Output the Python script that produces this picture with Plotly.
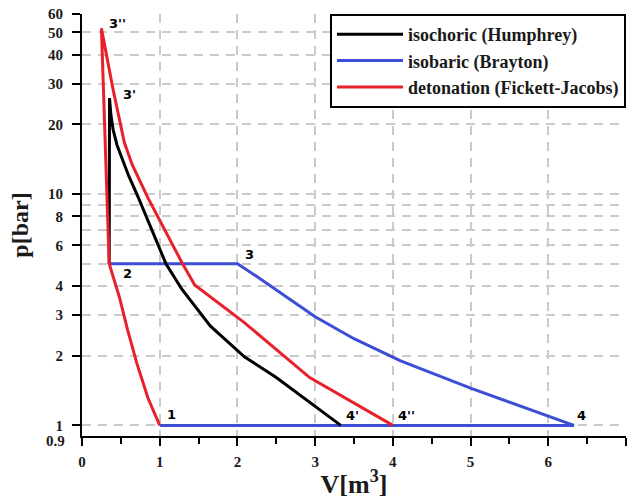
import plotly.graph_objects as go
import math

# ---- data ----
# isochoric (Humphrey): 2 -> 3' -> 4'
humphrey_v = [0.35, 0.354, 0.372, 0.40, 0.45, 0.52, 0.60, 0.728, 0.91, 1.08, 1.28, 1.65, 2.09, 2.5, 3.33]
humphrey_p = [5.0, 26.0, 22.0, 19.0, 16.3, 14.0, 12.0, 9.6, 6.8, 5.0, 3.9, 2.69, 1.98, 1.61, 1.0]

# isobaric (Brayton): 2 -> 3 -> 4 -> 1
brayton_v = [0.35, 2.0, 2.25, 2.5, 3.0, 3.5, 4.1, 5.0, 6.0, 6.33, 1.0]
brayton_p = [5.0, 5.0, 4.4, 3.85, 2.95, 2.37, 1.9, 1.45, 1.10, 1.0, 1.0]

# detonation (Fickett-Jacobs): 1 -> 2 -> 3'' -> 4''
fj_v = [1.0, 0.85, 0.707, 0.585, 0.484, 0.40, 0.35, 0.25, 0.40, 0.545, 0.646, 0.85,
        1.057, 1.28, 1.45, 2.085, 2.93, 4.0]
fj_p = [1.0, 1.31, 1.85, 2.6, 3.56, 4.45, 5.0, 52.0, 28.3, 16.7, 13.4, 9.6,
        7.05, 5.1, 4.05, 2.79, 1.61, 1.0]

y_min, y_max = 0.9, 60
y_tickvals = [1, 2, 3, 4, 6, 8, 10, 20, 30, 40, 50, 60]
y_ticktext = ["1", "2", "3", "4", "6", "8", "10", "20", "30", "40", "50", "60"]
y_bottom_label = "0.9"
x_tickvals = [0, 1, 2, 3, 4, 5, 6, 7]

# point labels: (text, series v, series p, index, xshift, yshift)
point_labels = [
    ("3''", fj_v, fj_p, 7, 6, 5),
    ("3'", humphrey_v, humphrey_p, 1, 11, 4),
    ("2", humphrey_v, humphrey_p, 0, 12, -10),
    ("3", brayton_v, brayton_p, 1, 6, 9),
    ("1", fj_v, fj_p, 0, 5, 11),
    ("4'", humphrey_v, humphrey_p, 14, 3, 10),
    ("4''", fj_v, fj_p, 17, 3, 10),
    ("4", brayton_v, brayton_p, 9, 1, 10),
]

BLUE = "#3c4ed6"
RED = "#e8202a"
SERIF = "Liberation Serif"
TXT = "#1a1a1a"

fig = go.Figure()
fig.add_trace(go.Scatter(x=brayton_v, y=brayton_p, mode="lines", name="<b>isobaric (Brayton)</b>",
                         line=dict(color=BLUE, width=3), legendrank=2))
fig.add_trace(go.Scatter(x=humphrey_v, y=humphrey_p, mode="lines", name="<b>isochoric (Humphrey)</b>",
                         line=dict(color="black", width=3), legendrank=1))
fig.add_trace(go.Scatter(x=fj_v, y=fj_p, mode="lines", name="<b>detonation (Fickett-Jacobs)</b>",
                         line=dict(color=RED, width=3), legendrank=3))

for text, vs, ps, i, xs, ys in point_labels:
    fig.add_annotation(x=vs[i], y=math.log10(ps[i]), text=text, showarrow=False,
                       xanchor="left", yanchor="middle", xshift=xs, yshift=ys,
                       font=dict(family="DejaVu Sans", size=13, color="black", weight="bold"))

# bottom y tick label (0.9) and its tick mark
fig.add_annotation(x=0, xref="paper", y=math.log10(y_min), yref="y",
                   text=f"<b>{y_bottom_label}</b>", showarrow=False,
                   xanchor="right", yanchor="middle", xshift=-15, yshift=-5,
                   font=dict(family=SERIF, size=15, color=TXT))
fig.add_shape(type="line", xref="paper", xsizemode="pixel", xanchor=0, x0=-8, x1=0,
              yref="y", y0=math.log10(y_min), y1=math.log10(y_min),
              line=dict(color="black", width=2))

grid_color = "#cbcbcb"
fig.update_xaxes(
    range=[0, 7], tickvals=x_tickvals, showline=True, linecolor="black", linewidth=2,
    ticks="outside", ticklen=8, tickwidth=2, tickcolor="black", ticklabelstandoff=3,
    tickfont=dict(family=SERIF, size=15, color=TXT, weight="bold"),
    showgrid=True, gridcolor=grid_color, gridwidth=1.5, griddash="9px,7px",
    zeroline=False, automargin=False,
    minor=dict(dtick=0.5, tick0=0, ticks="outside", ticklen=6, tickwidth=2, tickcolor="black", showgrid=False),
    title=dict(text="<b>V[m<sup>3</sup>]</b>", font=dict(family=SERIF, size=26, color=TXT), standoff=6),
)
fig.update_yaxes(
    type="log", range=[math.log10(y_min), math.log10(y_max)],
    tickvals=y_tickvals, ticktext=y_ticktext,
    showline=True, linecolor="black", linewidth=2,
    ticks="outside", ticklen=8, tickwidth=2, tickcolor="black", ticklabelstandoff=6,
    tickfont=dict(family=SERIF, size=15, color=TXT, weight="bold"),
    showgrid=True, gridcolor=grid_color, gridwidth=1.5, griddash="9px,7px",
    minor=dict(tickvals=[5, 7, 9], ticks="", showgrid=True, gridcolor=grid_color,
               gridwidth=1.5, griddash="9px,7px"),
    zeroline=False, automargin=False,
    title=dict(text="<b>p[bar]</b>", font=dict(family=SERIF, size=24, color=TXT), standoff=13),
)

fig.update_layout(
    width=629, height=504,
    margin=dict(l=82, r=3, t=14, b=68),
    plot_bgcolor="white", paper_bgcolor="white",
    showlegend=True,
    legend=dict(x=1, y=1, xanchor="right", yanchor="top",
                bgcolor="white", bordercolor="black", borderwidth=2,
                font=dict(family=SERIF, size=18, color=TXT),
                itemwidth=66, tracegroupgap=0),
)

fig.write_html("out.html", config={"displayModeBar": False},
               post_script="document.body.style.margin='0';")
